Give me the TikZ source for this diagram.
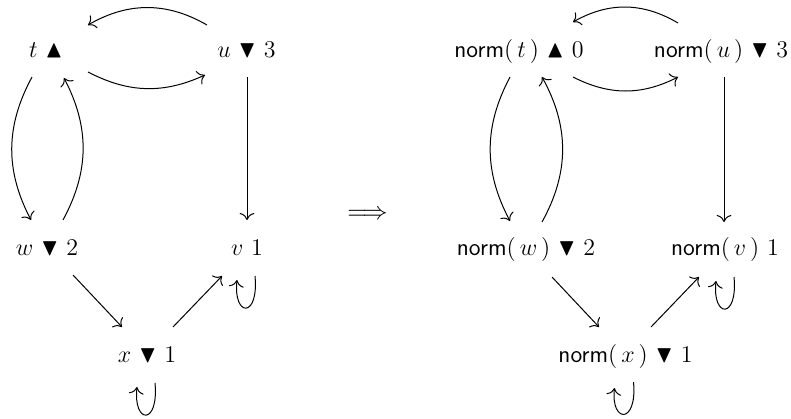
\documentclass[tikz,border=0pt]{standalone}
\usepackage{amssymb}
\usetikzlibrary{calc,arrows.meta}
\tikzset{
  lbl/.style={anchor=base, inner sep=0pt, outer sep=0pt, font=\large},
  arr/.style={-{To[scale=1.3]}, line width=0.5pt},
}
\newcommand{\up}{$\blacktriangle$}
\newcommand{\dn}{$\blacktriangledown$}
\newcommand{\nrm}[1]{\textsf{norm}$(\,#1\,)$}
\begin{document}
\begin{tikzpicture}[x=0.5pt, y=-0.5pt]
\useasboundingbox (0,0) rectangle (791,418);
% left graph
\node[lbl] (t) at (46,57) {$t$\ \up};
\node[lbl] (u) at (246.5,57) {$u$\ \dn\ $3$};
\node[lbl] (w) at (47,255) {$w$\ \dn\ $2$};
\node[lbl] (v) at (247,255) {$v$\ $1$};
\node[lbl] (x) at (147,362) {$x$\ \dn\ $1$};
\draw[arr] ($(u.base)+(-39.5,-32)$) to[bend right=30] ($(t.base)+(42,-32)$);
\draw[arr] ($(t.base)+(42,15)$) to[bend right=26] ($(u.base)+(-41.5,18)$);
\draw[arr] ($(t.base)+(-14,20)$) to[bend right=28] ($(w.base)+(-16,-35)$);
\draw[arr] ($(w.base)+(16,-35)$) to[bend right=28] ($(t.base)+(18,21)$);
\draw[arr] ($(u.base)+(0.5,20)$) -- ($(v.base)+(0,-35)$);
\draw[arr] ($(w.base)+(26,20)$) -- ($(x.base)+(-25,-35)$);
\draw[arr] ($(x.base)+(26,-35)$) -- ($(v.base)+(-25,21)$);
\draw[arr] ($(v.base)+(8,21)$) .. controls ($(v.base)+(12,64)$) and ($(v.base)+(-14,62)$) .. ($(v.base)+(-10,25)$);
\draw[arr] ($(x.base)+(8,21)$) .. controls ($(x.base)+(12,64)$) and ($(x.base)+(-14,62)$) .. ($(x.base)+(-10,25)$);
% implication
\node[inner sep=0pt] (imp) at (367.5,215) {\scalebox{1.25}{$\Longrightarrow$}};
% right graph
\node[lbl] (nt) at (519,57) {\nrm{t}\ \up\ $0$};
\node[lbl] (nu) at (721,57) {\nrm{u}\ \dn\ $3$};
\node[lbl] (nw) at (526,255) {\nrm{w}\ \dn\ $2$};
\node[lbl] (nv) at (725,255) {\nrm{v}\ $1$};
\node[lbl] (nx) at (625.5,362) {\nrm{x}\ \dn\ $1$};
\draw[arr] ($(nu.base)+(-43,-34)$) to[bend right=30] ($(nt.base)+(54,-35)$);
\draw[arr] ($(nt.base)+(54,20)$) to[bend right=27] ($(nu.base)+(-43,20)$);
\draw[arr] ($(nt.base)+(-9,20)$) to[bend right=28] ($(nw.base)+(-16,-34)$);
\draw[arr] ($(nw.base)+(16,-33)$) to[bend right=29] ($(nt.base)+(23,20)$);
\draw[arr] ($(nu.base)+(3,20)$) -- ($(nv.base)+(-1,-33)$);
\draw[arr] ($(nw.base)+(26,22)$) -- ($(nx.base)+(-26.5,-35)$);
\draw[arr] ($(nx.base)+(25.5,-35)$) -- ($(nv.base)+(-26,22)$);
\draw[arr] ($(nv.base)+(9,22)$) .. controls ($(nv.base)+(13,65)$) and ($(nv.base)+(-13,63)$) .. ($(nv.base)+(-9,26)$);
\draw[arr] ($(nx.base)+(8,20)$) .. controls ($(nx.base)+(12,63)$) and ($(nx.base)+(-15,61)$) .. ($(nx.base)+(-11,26)$);
\end{tikzpicture}
\end{document}
